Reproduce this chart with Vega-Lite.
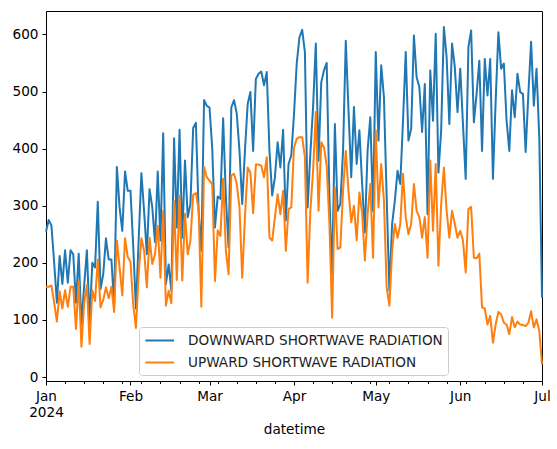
{
  "$schema": "https://vega.github.io/schema/vega-lite/v6.json",
  "description": "Daily downward and upward shortwave radiation, Jan to Jul 2024",
  "autosize": {"type": "none"},
  "width": 496,
  "height": 370,
  "padding": {"left": 46, "top": 11, "right": 15, "bottom": 68},
  "background": "white",
  "data": {
    "values": [
      {"t": "2024-01-01", "dn": 255, "up": 158}, {"t": "2024-01-02", "dn": 275, "up": 158},
      {"t": "2024-01-03", "dn": 265, "up": 160}, {"t": "2024-01-04", "dn": 200, "up": 130},
      {"t": "2024-01-05", "dn": 130, "up": 97}, {"t": "2024-01-06", "dn": 212, "up": 150},
      {"t": "2024-01-07", "dn": 163, "up": 120}, {"t": "2024-01-08", "dn": 222, "up": 152},
      {"t": "2024-01-09", "dn": 165, "up": 123}, {"t": "2024-01-10", "dn": 222, "up": 158},
      {"t": "2024-01-11", "dn": 215, "up": 158}, {"t": "2024-01-12", "dn": 130, "up": 84},
      {"t": "2024-01-13", "dn": 216, "up": 168}, {"t": "2024-01-14", "dn": 92, "up": 53},
      {"t": "2024-01-15", "dn": 160, "up": 130}, {"t": "2024-01-16", "dn": 222, "up": 161},
      {"t": "2024-01-17", "dn": 98, "up": 58}, {"t": "2024-01-18", "dn": 200, "up": 152},
      {"t": "2024-01-19", "dn": 192, "up": 133}, {"t": "2024-01-20", "dn": 307, "up": 206},
      {"t": "2024-01-21", "dn": 154, "up": 122}, {"t": "2024-01-22", "dn": 180, "up": 135},
      {"t": "2024-01-23", "dn": 243, "up": 157}, {"t": "2024-01-24", "dn": 206, "up": 138},
      {"t": "2024-01-25", "dn": 206, "up": 158}, {"t": "2024-01-26", "dn": 127, "up": 114},
      {"t": "2024-01-27", "dn": 368, "up": 239}, {"t": "2024-01-28", "dn": 297, "up": 192},
      {"t": "2024-01-29", "dn": 256, "up": 143}, {"t": "2024-01-30", "dn": 360, "up": 243},
      {"t": "2024-01-31", "dn": 326, "up": 210},
      {"t": "2024-02-01", "dn": 326, "up": 202}, {"t": "2024-02-02", "dn": 230, "up": 127},
      {"t": "2024-02-03", "dn": 120, "up": 86}, {"t": "2024-02-04", "dn": 240, "up": 180},
      {"t": "2024-02-05", "dn": 357, "up": 243}, {"t": "2024-02-06", "dn": 290, "up": 221},
      {"t": "2024-02-07", "dn": 215, "up": 157}, {"t": "2024-02-08", "dn": 329, "up": 244},
      {"t": "2024-02-09", "dn": 297, "up": 198}, {"t": "2024-02-10", "dn": 236, "up": 215},
      {"t": "2024-02-11", "dn": 360, "up": 265}, {"t": "2024-02-12", "dn": 239, "up": 174},
      {"t": "2024-02-13", "dn": 427, "up": 291}, {"t": "2024-02-14", "dn": 163, "up": 125},
      {"t": "2024-02-15", "dn": 197, "up": 151}, {"t": "2024-02-16", "dn": 151, "up": 129},
      {"t": "2024-02-17", "dn": 418, "up": 308}, {"t": "2024-02-18", "dn": 262, "up": 170},
      {"t": "2024-02-19", "dn": 433, "up": 318}, {"t": "2024-02-20", "dn": 244, "up": 169},
      {"t": "2024-02-21", "dn": 379, "up": 286}, {"t": "2024-02-22", "dn": 280, "up": 215},
      {"t": "2024-02-23", "dn": 303, "up": 239}, {"t": "2024-02-24", "dn": 436, "up": 319},
      {"t": "2024-02-25", "dn": 445, "up": 322}, {"t": "2024-02-26", "dn": 291, "up": 294},
      {"t": "2024-02-27", "dn": 221, "up": 123}, {"t": "2024-02-28", "dn": 485, "up": 368},
      {"t": "2024-02-29", "dn": 475, "up": 350},
      {"t": "2024-03-01", "dn": 472, "up": 344}, {"t": "2024-03-02", "dn": 400, "up": 338},
      {"t": "2024-03-03", "dn": 262, "up": 168}, {"t": "2024-03-04", "dn": 316, "up": 257},
      {"t": "2024-03-05", "dn": 312, "up": 247}, {"t": "2024-03-06", "dn": 453, "up": 347},
      {"t": "2024-03-07", "dn": 315, "up": 221}, {"t": "2024-03-08", "dn": 227, "up": 180},
      {"t": "2024-03-09", "dn": 472, "up": 353}, {"t": "2024-03-10", "dn": 485, "up": 356},
      {"t": "2024-03-11", "dn": 461, "up": 338}, {"t": "2024-03-12", "dn": 396, "up": 297},
      {"t": "2024-03-13", "dn": 303, "up": 174}, {"t": "2024-03-14", "dn": 396, "up": 280},
      {"t": "2024-03-15", "dn": 478, "up": 367}, {"t": "2024-03-16", "dn": 499, "up": 358},
      {"t": "2024-03-17", "dn": 396, "up": 287}, {"t": "2024-03-18", "dn": 522, "up": 372},
      {"t": "2024-03-19", "dn": 531, "up": 372}, {"t": "2024-03-20", "dn": 535, "up": 370},
      {"t": "2024-03-21", "dn": 511, "up": 350}, {"t": "2024-03-22", "dn": 534, "up": 385},
      {"t": "2024-03-23", "dn": 396, "up": 244}, {"t": "2024-03-24", "dn": 318, "up": 239},
      {"t": "2024-03-25", "dn": 350, "up": 280}, {"t": "2024-03-26", "dn": 411, "up": 320},
      {"t": "2024-03-27", "dn": 367, "up": 285}, {"t": "2024-03-28", "dn": 433, "up": 326},
      {"t": "2024-03-29", "dn": 274, "up": 221}, {"t": "2024-03-30", "dn": 373, "up": 294},
      {"t": "2024-03-31", "dn": 388, "up": 297},
      {"t": "2024-04-01", "dn": 460, "up": 402}, {"t": "2024-04-02", "dn": 549, "up": 417},
      {"t": "2024-04-03", "dn": 595, "up": 420}, {"t": "2024-04-04", "dn": 608, "up": 420},
      {"t": "2024-04-05", "dn": 569, "up": 385}, {"t": "2024-04-06", "dn": 297, "up": 165},
      {"t": "2024-04-07", "dn": 391, "up": 291}, {"t": "2024-04-08", "dn": 473, "up": 361},
      {"t": "2024-04-09", "dn": 584, "up": 464}, {"t": "2024-04-10", "dn": 379, "up": 291},
      {"t": "2024-04-11", "dn": 516, "up": 411}, {"t": "2024-04-12", "dn": 537, "up": 402},
      {"t": "2024-04-13", "dn": 550, "up": 370}, {"t": "2024-04-14", "dn": 315, "up": 268},
      {"t": "2024-04-15", "dn": 180, "up": 104}, {"t": "2024-04-16", "dn": 443, "up": 332},
      {"t": "2024-04-17", "dn": 291, "up": 224}, {"t": "2024-04-18", "dn": 303, "up": 227},
      {"t": "2024-04-19", "dn": 396, "up": 326}, {"t": "2024-04-20", "dn": 589, "up": 396},
      {"t": "2024-04-21", "dn": 467, "up": 326}, {"t": "2024-04-22", "dn": 350, "up": 271},
      {"t": "2024-04-23", "dn": 473, "up": 300}, {"t": "2024-04-24", "dn": 373, "up": 239},
      {"t": "2024-04-25", "dn": 432, "up": 323}, {"t": "2024-04-26", "dn": 338, "up": 288},
      {"t": "2024-04-27", "dn": 253, "up": 204}, {"t": "2024-04-28", "dn": 396, "up": 285},
      {"t": "2024-04-29", "dn": 455, "up": 338}, {"t": "2024-04-30", "dn": 291, "up": 209},
      {"t": "2024-05-01", "dn": 569, "up": 432}, {"t": "2024-05-02", "dn": 414, "up": 297},
      {"t": "2024-05-03", "dn": 546, "up": 373}, {"t": "2024-05-04", "dn": 490, "up": 309},
      {"t": "2024-05-05", "dn": 315, "up": 157}, {"t": "2024-05-06", "dn": 151, "up": 125},
      {"t": "2024-05-07", "dn": 268, "up": 221}, {"t": "2024-05-08", "dn": 309, "up": 268},
      {"t": "2024-05-09", "dn": 361, "up": 244}, {"t": "2024-05-10", "dn": 338, "up": 268},
      {"t": "2024-05-11", "dn": 449, "up": 356}, {"t": "2024-05-12", "dn": 569, "up": 280},
      {"t": "2024-05-13", "dn": 414, "up": 250}, {"t": "2024-05-14", "dn": 435, "up": 268},
      {"t": "2024-05-15", "dn": 598, "up": 338}, {"t": "2024-05-16", "dn": 525, "up": 291},
      {"t": "2024-05-17", "dn": 508, "up": 280}, {"t": "2024-05-18", "dn": 429, "up": 244},
      {"t": "2024-05-19", "dn": 513, "up": 280}, {"t": "2024-05-20", "dn": 285, "up": 209},
      {"t": "2024-05-21", "dn": 537, "up": 379}, {"t": "2024-05-22", "dn": 449, "up": 256},
      {"t": "2024-05-23", "dn": 601, "up": 373}, {"t": "2024-05-24", "dn": 358, "up": 195},
      {"t": "2024-05-25", "dn": 432, "up": 303}, {"t": "2024-05-26", "dn": 613, "up": 367},
      {"t": "2024-05-27", "dn": 560, "up": 291}, {"t": "2024-05-28", "dn": 443, "up": 244},
      {"t": "2024-05-29", "dn": 584, "up": 291}, {"t": "2024-05-30", "dn": 543, "up": 268},
      {"t": "2024-05-31", "dn": 464, "up": 244},
      {"t": "2024-06-01", "dn": 540, "up": 256}, {"t": "2024-06-02", "dn": 443, "up": 239},
      {"t": "2024-06-03", "dn": 347, "up": 183}, {"t": "2024-06-04", "dn": 578, "up": 294},
      {"t": "2024-06-05", "dn": 607, "up": 298}, {"t": "2024-06-06", "dn": 446, "up": 209},
      {"t": "2024-06-07", "dn": 496, "up": 208}, {"t": "2024-06-08", "dn": 554, "up": 216},
      {"t": "2024-06-09", "dn": 396, "up": 122}, {"t": "2024-06-10", "dn": 557, "up": 120},
      {"t": "2024-06-11", "dn": 493, "up": 92}, {"t": "2024-06-12", "dn": 557, "up": 107},
      {"t": "2024-06-13", "dn": 347, "up": 60}, {"t": "2024-06-14", "dn": 484, "up": 92},
      {"t": "2024-06-15", "dn": 604, "up": 114}, {"t": "2024-06-16", "dn": 540, "up": 110},
      {"t": "2024-06-17", "dn": 549, "up": 95}, {"t": "2024-06-18", "dn": 449, "up": 92},
      {"t": "2024-06-19", "dn": 396, "up": 75}, {"t": "2024-06-20", "dn": 502, "up": 105},
      {"t": "2024-06-21", "dn": 455, "up": 87}, {"t": "2024-06-22", "dn": 531, "up": 97},
      {"t": "2024-06-23", "dn": 499, "up": 92}, {"t": "2024-06-24", "dn": 496, "up": 91},
      {"t": "2024-06-25", "dn": 394, "up": 89}, {"t": "2024-06-26", "dn": 496, "up": 95},
      {"t": "2024-06-27", "dn": 587, "up": 115}, {"t": "2024-06-28", "dn": 475, "up": 87},
      {"t": "2024-06-29", "dn": 540, "up": 101}, {"t": "2024-06-30", "dn": 420, "up": 81},
      {"t": "2024-07-01", "dn": 139, "up": 22}
    ]
  },
  "transform": [{"fold": ["dn", "up"], "as": ["series", "radiation"]}],
  "layer": [
    {
      "mark": {"type": "line", "strokeWidth": 2, "strokeJoin": "round"},
      "encoding": {
        "x": {
          "field": "t",
          "type": "temporal",
          "scale": {"type": "utc", "nice": false},
          "axis": {
            "title": "datetime",
            "orient": "bottom",
            "values": [
              {"year": 2024, "month": 1, "date": 1, "utc": true},
              {"year": 2024, "month": 2, "date": 1, "utc": true},
              {"year": 2024, "month": 3, "date": 1, "utc": true},
              {"year": 2024, "month": 4, "date": 1, "utc": true},
              {"year": 2024, "month": 5, "date": 1, "utc": true},
              {"year": 2024, "month": 6, "date": 1, "utc": true},
              {"year": 2024, "month": 7, "date": 1, "utc": true}
            ],
            "labelExpr": "utcFormat(datum.value, '%m') == '01' ? ['Jan', '2024'] : utcFormat(datum.value, '%b')",
            "labelLineHeight": 16,
            "labelFlush": false,
            "labelOverlap": false,
            "titlePadding": 4
          }
        },
        "y": {
          "field": "radiation",
          "type": "quantitative",
          "scale": {"domain": [-7, 641], "nice": false, "zero": false},
          "axis": {"title": null, "values": [0, 100, 200, 300, 400, 500, 600]}
        },
        "color": {
          "field": "series",
          "type": "nominal",
          "scale": {"domain": ["dn", "up"], "range": ["#1f77b4", "#ff7f0e"]},
          "legend": {
            "title": null,
            "orient": "none",
            "legendX": 93,
            "legendY": 316,
            "symbolType": "M-1,0H3",
            "symbolSize": 205,
            "symbolStrokeWidth": 2,
            "symbolFillColor": "transparent",
            "labelOffset": 27,
            "labelLimit": 400,
            "labelExpr": "datum.label == 'dn' ? 'DOWNWARD SHORTWAVE RADIATION' : 'UPWARD SHORTWAVE RADIATION'",
            "fillColor": "rgba(255,255,255,0.8)",
            "strokeColor": "#cccccc",
            "cornerRadius": 3,
            "padding": 5,
            "rowPadding": 6
          }
        }
      }
    },
    {
      "mark": {"type": "line", "opacity": 0},
      "encoding": {
        "x": {
          "field": "t",
          "type": "temporal",
          "axis": {
            "title": null,
            "orient": "bottom",
            "labels": false,
            "domain": false,
            "tickSize": 2.5,
            "values": [
              {"year": 2024, "month": 1, "date": 8, "utc": true},
              {"year": 2024, "month": 1, "date": 15, "utc": true},
              {"year": 2024, "month": 1, "date": 22, "utc": true},
              {"year": 2024, "month": 1, "date": 29, "utc": true},
              {"year": 2024, "month": 2, "date": 5, "utc": true},
              {"year": 2024, "month": 2, "date": 12, "utc": true},
              {"year": 2024, "month": 2, "date": 19, "utc": true},
              {"year": 2024, "month": 2, "date": 26, "utc": true},
              {"year": 2024, "month": 3, "date": 4, "utc": true},
              {"year": 2024, "month": 3, "date": 11, "utc": true},
              {"year": 2024, "month": 3, "date": 18, "utc": true},
              {"year": 2024, "month": 3, "date": 25, "utc": true},
              {"year": 2024, "month": 4, "date": 8, "utc": true},
              {"year": 2024, "month": 4, "date": 15, "utc": true},
              {"year": 2024, "month": 4, "date": 22, "utc": true},
              {"year": 2024, "month": 4, "date": 29, "utc": true},
              {"year": 2024, "month": 5, "date": 6, "utc": true},
              {"year": 2024, "month": 5, "date": 13, "utc": true},
              {"year": 2024, "month": 5, "date": 20, "utc": true},
              {"year": 2024, "month": 5, "date": 27, "utc": true},
              {"year": 2024, "month": 6, "date": 3, "utc": true},
              {"year": 2024, "month": 6, "date": 10, "utc": true},
              {"year": 2024, "month": 6, "date": 17, "utc": true},
              {"year": 2024, "month": 6, "date": 24, "utc": true}
            ]
          }
        }
      }
    }
  ],
  "resolve": {"axis": {"x": "independent"}},
  "config": {
    "font": "DejaVu Sans",
    "view": {"stroke": "black", "strokeWidth": 1},
    "axis": {
      "grid": false,
      "domainColor": "black",
      "tickColor": "black",
      "tickSize": 4,
      "labelPadding": 4,
      "labelFont": "DejaVu Sans",
      "labelFontSize": 13.6,
      "labelColor": "black",
      "titleFont": "DejaVu Sans",
      "titleFontSize": 13.6,
      "titleFontWeight": "normal",
      "titleColor": "black"
    },
    "legend": {
      "labelFont": "DejaVu Sans",
      "labelFontSize": 13.6,
      "labelColor": "#222222"
    }
  }
}
